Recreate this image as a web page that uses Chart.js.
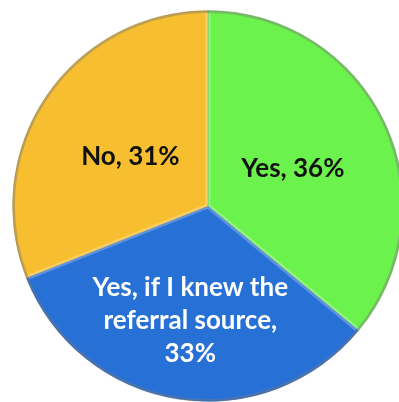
<!DOCTYPE html>
<html>
<head>
<meta charset="utf-8">
<script src="https://cdn.jsdelivr.net/npm/chart.js@4"></script>
<style>
  html, body { margin: 0; padding: 0; background: #fff; overflow: hidden; width: 399px; height: 402px; }
  #referralPie { position: absolute; left: 0; top: 0; }
</style>
</head>
<body>
<canvas id="referralPie" width="416" height="412"></canvas>
<script>
var labels = ["Yes", "Yes, if I knew the referral source", "No"];
var values = [36, 33, 31];
// label lines as printed on each slice
var labelLines = [
  ["Yes, 36%"],
  ["Yes, if I knew the", "referral source,", "33%"],
  ["No, 31%"]
];

var centerColors = ["#6cf24c", "#2770d6", "#f7bf30"];
var edgeColors = ["#5fe03e", "#1a52ad", "#eaab24"];
var textColors = ["#111111", "#ffffff", "#111111"];
var labelRadius = [0.48, 0.58, 0.48];

function sliceFill(context) {
  var arc = context.element;
  var chart = context.chart;
  if (!arc || arc.outerRadius === undefined) return centerColors[context.dataIndex];
  var g = chart.ctx.createRadialGradient(arc.x, arc.y, 0, arc.x, arc.y, arc.outerRadius);
  g.addColorStop(0, centerColors[context.dataIndex]);
  g.addColorStop(1, edgeColors[context.dataIndex]);
  return g;
}

// soft bevel round every slice, then the text on top
var sliceText = {
  id: 'sliceText',
  afterDatasetsDraw: function(chart) {
    var ctx = chart.ctx;
    var arcs = chart.getDatasetMeta(0).data;
    arcs.forEach(function(arc) {
      var p = arc.getProps(['x', 'y', 'startAngle', 'endAngle', 'outerRadius']);
      ctx.save();
      ctx.beginPath();
      ctx.moveTo(p.x, p.y);
      ctx.arc(p.x, p.y, p.outerRadius, p.startAngle, p.endAngle);
      ctx.closePath();
      ctx.clip();
      ctx.lineJoin = 'round';
      ctx.strokeStyle = 'rgba(255,255,255,0.25)';
      ctx.lineWidth = 5;
      ctx.stroke();
      ctx.beginPath();
      ctx.arc(p.x, p.y, p.outerRadius, p.startAngle, p.endAngle);
      ctx.strokeStyle = 'rgba(0,0,0,0.22)';
      ctx.lineWidth = 5;
      ctx.stroke();
      ctx.restore();
    });

    ctx.save();
    ctx.font = 'bold 26px Lato, "Open Sans", sans-serif';
    ctx.textAlign = 'center';
    ctx.textBaseline = 'middle';
    arcs.forEach(function(arc, i) {
      var p = arc.getProps(['x', 'y', 'startAngle', 'endAngle', 'outerRadius']);
      var mid = (p.startAngle + p.endAngle) / 2;
      var d = p.outerRadius * labelRadius[i];
      var cx = p.x + Math.cos(mid) * d;
      var cy = p.y + Math.sin(mid) * d + 3;
      var lines = labelLines[i];
      var lh = 33;
      ctx.fillStyle = textColors[i];
      lines.forEach(function(t, k) {
        ctx.fillText(t, cx, cy + (k - (lines.length - 1) / 2) * lh);
      });
    });
    ctx.restore();
  }
};

var ctx = document.getElementById("referralPie").getContext('2d');
var referralPie = new Chart(ctx, {
  type: 'pie',
  data: {
    labels: labels,
    datasets: [{
      data: values,
      backgroundColor: sliceFill,
      borderColor: 'rgba(0,0,0,0.15)',
      borderWidth: 1
    }]
  },
  options: {
    responsive: false,
    animation: false,
    layout: { padding: { left: 12, right: 12, top: 10, bottom: 10 } },
    plugins: {
      legend: { display: false },
      tooltip: { enabled: false }
    }
  },
  plugins: [sliceText]
});
</script>
</body>
</html>
